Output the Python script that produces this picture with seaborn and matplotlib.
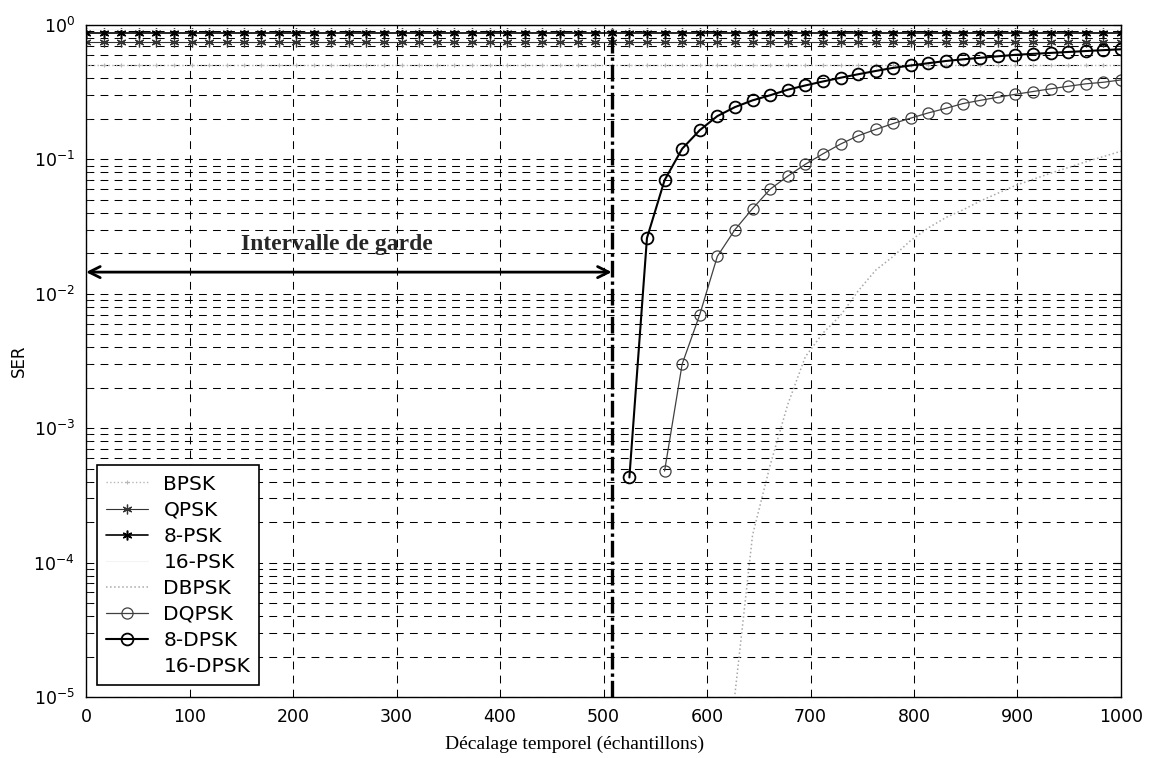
import matplotlib
matplotlib.use("Agg")
import matplotlib.pyplot as plt
import seaborn as sns

sns.set_theme(style="white")
plt.rcParams["font.family"] = ["DejaVu Sans"]
plt.rcParams["mathtext.default"] = "regular"

# Time offsets (samples) at which the symbol error rate was evaluated
offset_full = [0, 17, 34, 51, 68, 85, 102, 119, 136, 153, 169, 186, 203, 220, 237,
               254, 271, 288, 305, 322, 339, 356, 373, 390, 407, 424, 441, 458, 475,
               492, 508, 525, 542, 559, 576, 593, 610, 627, 644, 661, 678, 695, 712,
               729, 746, 763, 780, 797, 814, 831, 847, 864, 881, 898, 915, 932, 949,
               966, 983, 1000]

# Coherent schemes: flat error rate over the whole offset range
ser_bpsk = [0.5] * len(offset_full)
ser_qpsk = [0.75] * len(offset_full)
ser_8psk = [0.875] * len(offset_full)
ser_16psk = [0.9375] * len(offset_full)

# Differential schemes beyond the guard interval
offset_8dpsk = [525, 542, 559, 576, 593, 610, 627, 644, 661, 678, 695, 712, 729, 746,
                763, 780, 797, 814, 831, 847, 864, 881, 898, 915, 932, 949, 966, 983, 1000]
ser_8dpsk = [4.3e-4, 2.6e-2, 7.0e-2, 1.2e-1, 1.65e-1, 2.1e-1, 2.45e-1, 2.75e-1, 3.0e-1,
             3.3e-1, 3.55e-1, 3.8e-1, 4.05e-1, 4.3e-1, 4.55e-1, 4.8e-1, 5.0e-1, 5.2e-1,
             5.4e-1, 5.55e-1, 5.7e-1, 5.85e-1, 6.0e-1, 6.1e-1, 6.2e-1, 6.3e-1, 6.4e-1,
             6.5e-1, 6.6e-1]

offset_dqpsk = [559, 576, 593, 610, 627, 644, 661, 678, 695, 712, 729, 746, 763, 780,
                797, 814, 831, 847, 864, 881, 898, 915, 932, 949, 966, 983, 1000]
ser_dqpsk = [4.8e-4, 3.0e-3, 7.0e-3, 1.9e-2, 3.0e-2, 4.3e-2, 6.0e-2, 7.5e-2, 9.2e-2,
             0.11, 0.13, 0.15, 0.167, 0.185, 0.203, 0.222, 0.24, 0.26, 0.275, 0.29,
             0.305, 0.32, 0.335, 0.35, 0.365, 0.375, 0.39]

offset_dbpsk = [627, 644, 661, 678, 695, 712, 729, 746, 763, 780, 797, 814, 831, 847,
                864, 881, 898, 915, 932, 949, 966, 983, 1000]
ser_dbpsk = [1.05e-5, 1.6e-4, 5.3e-4, 1.5e-3, 3.4e-3, 5.1e-3, 6.9e-3, 1.05e-2, 1.5e-2,
             1.9e-2, 2.5e-2, 3.1e-2, 3.7e-2, 4.2e-2, 4.9e-2, 5.6e-2, 6.4e-2, 7.1e-2,
             7.9e-2, 8.7e-2, 9.6e-2, 0.105, 0.115]

guard_end = 508
x_ticks = [0, 100, 200, 300, 400, 500, 600, 700, 800, 900, 1000]

fig = plt.figure(figsize=(11.49, 7.58), dpi=100)
ax = fig.add_axes([86 / 1149, 1 - 697 / 758, 1035 / 1149, 672 / 758])
ax.set_yscale("log")

grid_kw = dict(color="black", linewidth=0.75, linestyle=(0, (7.5, 6)))
ax.grid(True, which="major", axis="both", **grid_kw)
ax.grid(True, which="minor", axis="y", **grid_kw)
ax.set_axisbelow(True)

sns.lineplot(x=offset_full, y=ser_bpsk, ax=ax, color="#b8b8b8", linestyle=":",
             linewidth=1.0, marker="+", markersize=3, mec="#b8b8b8", mew=0.8,
             label="BPSK")
sns.lineplot(x=offset_full, y=ser_qpsk, ax=ax, color="#333333", linestyle="-",
             linewidth=0.8, marker=(6, 2, 0), markersize=7, mec="#333333", mew=0.9,
             label="QPSK")
sns.lineplot(x=offset_full, y=ser_8psk, ax=ax, color="black", linestyle="-",
             linewidth=1.2, marker=(6, 2, 0), markersize=7, mec="black", mew=1.1,
             label="8-PSK")
sns.lineplot(x=offset_full, y=ser_16psk, ax=ax, color="#f4f4f4", linestyle="-",
             linewidth=0.8, label="16-PSK")
sns.lineplot(x=offset_dbpsk, y=ser_dbpsk, ax=ax, color="#a8a8a8", linestyle=":",
             linewidth=1.1, label="DBPSK")
sns.lineplot(x=offset_dqpsk, y=ser_dqpsk, ax=ax, color="#404040", linestyle="-",
             linewidth=0.9, marker="o", markersize=8, mfc="none", mec="#404040",
             mew=0.9, label="DQPSK")
sns.lineplot(x=offset_8dpsk, y=ser_8dpsk, ax=ax, color="black", linestyle="-",
             linewidth=1.5, marker="o", markersize=8.5, mfc="none", mec="black",
             mew=1.3, label="8-DPSK")
ax.plot([], [], color="white", linewidth=1, label="16-DPSK")

# End of the guard interval
ax.axvline(guard_end, color="black", linewidth=2.4, linestyle=(0, (5, 1.2, 1, 1.2)))
ax.annotate("", xy=(0, 0.0145), xytext=(guard_end, 0.0145),
            arrowprops=dict(arrowstyle="<->", lw=2, color="black",
                            shrinkA=0, shrinkB=0, mutation_scale=20))
ax.text(242, 0.021, "Intervalle de garde", ha="center", va="baseline",
        fontfamily="Liberation Serif", fontweight="bold", fontsize=17)

ax.set_xlim(0, 1000)
ax.set_ylim(1e-5, 1)
ax.set_xticks(x_ticks)
ax.set_xticklabels([str(v) for v in x_ticks])

for s in ax.spines.values():
    s.set_color("black")
    s.set_linewidth(1.0)
ax.tick_params(axis="both", which="major", direction="in", length=6, width=0.8,
               top=True, right=True, labelsize=12.5, colors="black", pad=8)
ax.tick_params(axis="y", which="minor", direction="in", length=3, width=0.6,
               left=True, right=True)

ax.set_xlabel("Décalage temporel (échantillons)", fontfamily="Liberation Serif",
              fontsize=14, color="black")
ax.xaxis.set_label_coords(0.472, -0.058)
ax.set_ylabel("SER", fontsize=12, color="black")
ax.yaxis.set_label_coords(-0.056, 0.5)

leg = ax.legend(loc="lower left", bbox_to_anchor=(0.0106, 0.018), borderaxespad=0,
                fontsize=14.5, handlelength=2.1, handletextpad=0.75, borderpad=0.45,
                labelspacing=0.35, numpoints=1, fancybox=False, framealpha=1,
                edgecolor="black")
leg.get_frame().set_linewidth(1.2)
for t in leg.get_texts():
    t.set_color("black")

fig.savefig("out.png", dpi=100, facecolor="white")
